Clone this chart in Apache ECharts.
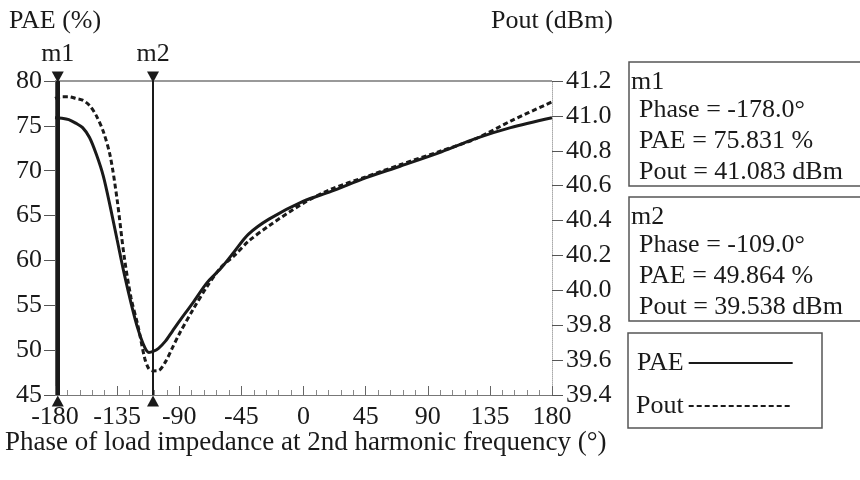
<!DOCTYPE html>
<html>
<head>
<meta charset="utf-8">
<script src="https://cdn.jsdelivr.net/npm/echarts@6/dist/echarts.min.js"></script>
<style>
html,body{margin:0;padding:0;background:#fff;}
#chart{width:860px;height:480px;}
</style>
</head>
<body>
<div id="chart"></div>
<script>
// ---- data ----
var phase = [-180, -175, -170, -165, -160, -155, -150, -145, -140, -135, -130, -125, -120, -115, -112, -109, -105, -100, -95, -90, -80, -70, -60, -50, -40, -25, 0, 20, 45, 70, 100, 125, 150, 180];
var paeValues = [75.9, 75.85, 75.7, 75.3, 74.8, 73.7, 71.8, 69.4, 66.0, 62.3, 58.6, 55.3, 52.4, 50.3, 49.75, 49.86, 50.2, 51.0, 52.1, 53.2, 55.3, 57.5, 59.1, 61.0, 62.9, 64.6, 66.6, 67.7, 69.2, 70.5, 72.1, 73.6, 74.8, 75.9];
var poutValues = [41.10, 41.11, 41.11, 41.10, 41.09, 41.06, 41.00, 40.91, 40.77, 40.52, 40.20, 39.96, 39.80, 39.61, 39.55, 39.538, 39.54, 39.59, 39.67, 39.75, 39.89, 40.02, 40.13, 40.20, 40.28, 40.37, 40.50, 40.58, 40.65, 40.72, 40.80, 40.87, 40.97, 41.08];
var xTicks = [-180, -135, -90, -45, 0, 45, 90, 135, 180];
var paeTicks = [45, 50, 55, 60, 65, 70, 75, 80];
var poutTicks = [39.4, 39.6, 39.8, 40.0, 40.2, 40.4, 40.6, 40.8, 41.0, 41.2];
var markerNames = ['m1', 'm2'];
var markerPhase = [-178.0, -109.0];
var markerPAE = [75.831, 49.864];
var markerPout = [41.083, 39.538];

var FONT = 'Liberation Serif';
var FS = 26;
var INK = '#1a1a1a';

var chart = echarts.init(document.getElementById('chart'));

function zip(a, b) { return a.map(function (v, i) { return [v, b[i]]; }); }

var markerTop = markerPhase.map(function (p, i) { return { value: [p, 80], name: markerNames[i] }; });
var markerBottom = markerPhase.map(function (p) { return [p, 45]; });

var option = {
  animation: false,
  backgroundColor: '#fff',
  textStyle: { fontFamily: FONT, color: INK },
  grid: { left: 55, right: 308, top: 81, bottom: 85, containLabel: false },
  legend: {
    left: 631, top: 345, orient: 'vertical', align: 'right',
    itemWidth: 104, itemHeight: 14, itemGap: 17,
    itemStyle: { opacity: 0 },
    textStyle: { fontFamily: FONT, fontSize: FS, color: INK },
    data: ['PAE', 'Pout']
  },
  xAxis: {
    type: 'value', min: xTicks[0], max: xTicks[xTicks.length - 1], interval: 45,
    axisLine: { show: true, onZero: false, lineStyle: { color: '#777', width: 1 } },
    axisTick: { show: true, inside: true, length: 9, lineStyle: { color: '#666' } },
    minorTick: { show: true, splitNumber: 5, length: 5, lineStyle: { color: '#888' } },
    axisLabel: { fontFamily: FONT, fontSize: FS, color: INK, margin: 9 },
    splitLine: { show: false }
  },
  yAxis: [
    {
      type: 'value', min: paeTicks[0], max: paeTicks[paeTicks.length - 1], interval: 5,
      position: 'left',
      name: 'PAE (%)', nameLocation: 'end', nameGap: 47,
      nameTextStyle: { fontFamily: FONT, fontSize: FS, color: INK, align: 'center' },
      axisLine: { show: true, onZero: false, lineStyle: { color: '#555', width: 1 } },
      axisTick: { show: true, inside: false, length: 11, lineStyle: { color: '#555' } },
      axisLabel: { fontFamily: FONT, fontSize: FS, color: INK, margin: 13 },
      splitLine: { show: false }
    },
    {
      type: 'value', min: poutTicks[0], max: poutTicks[poutTicks.length - 1], interval: 0.2,
      position: 'right',
      name: 'Pout (dBm)', nameLocation: 'end', nameGap: 47,
      nameTextStyle: { fontFamily: FONT, fontSize: FS, color: INK, align: 'center' },
      axisLine: { show: true, onZero: false, lineStyle: { color: '#aaa', width: 1, type: 'dotted' } },
      axisTick: { show: true, inside: false, length: 11, lineStyle: { color: '#555' } },
      axisLabel: { fontFamily: FONT, fontSize: FS, color: INK, margin: 14,
        formatter: function (v) { return v.toFixed(1); } },
      splitLine: { show: false }
    }
  ],
  series: [
    {
      name: 'PAE', type: 'line', yAxisIndex: 0, data: zip(phase, paeValues),
      smooth: 0.3, showSymbol: false, symbol: 'none',
      lineStyle: { color: INK, width: 3 }, itemStyle: { color: INK },
      markLine: {
        silent: true, symbol: ['none', 'none'], label: { show: false },
        lineStyle: { color: '#777', width: 1.5, type: 'solid' },
        data: [{ yAxis: 80 }]
      }
    },
    {
      name: 'Pout', type: 'line', yAxisIndex: 1, data: zip(phase, poutValues),
      smooth: 0.3, showSymbol: false, symbol: 'none',
      lineStyle: { color: INK, width: 3, type: [5, 3] }, itemStyle: { color: INK }
    },
    {
      name: 'markers', type: 'line', yAxisIndex: 0, data: [], silent: true,
      markLine: {
        silent: true, symbol: ['none', 'none'], label: { show: false },
        data: [
          { xAxis: markerPhase[0], lineStyle: { color: INK, width: 4, type: 'solid' } },
          { xAxis: markerPhase[1], lineStyle: { color: INK, width: 2, type: 'solid' } }
        ]
      }
    },
    {
      name: 'markerTop', type: 'scatter', yAxisIndex: 0, data: markerTop, silent: true,
      symbol: 'triangle', symbolRotate: 180, symbolSize: [12, 11], symbolOffset: [0, -4],
      itemStyle: { color: INK, opacity: 1 }, clip: false, z: 5,
      label: { show: true, position: 'top', distance: 4, formatter: '{b}',
        fontFamily: FONT, fontSize: FS, color: INK }
    },
    {
      name: 'markerBottom', type: 'scatter', yAxisIndex: 0, data: markerBottom, silent: true,
      symbol: 'triangle', symbolSize: [12, 11], symbolOffset: [0, 6],
      itemStyle: { color: INK, opacity: 1 }, clip: false, z: 5
    }
  ],
  graphic: (function () {
    var g = [];
    var ts = { fontFamily: FONT, fontSize: FS, fill: INK, textVerticalAlign: 'middle' };
    function txt(x, y, s) { return { type: 'text', left: x, top: y - 13, style: Object.assign({ text: s }, ts) }; }
    function box(x, y, w, h) {
      return { type: 'rect', shape: { x: x, y: y, width: w, height: h },
        style: { fill: 'none', stroke: '#555', lineWidth: 1.5 } };
    }
    function fmtPhase(v) { return 'Phase = ' + v.toFixed(1) + '°'; }
    // marker boxes
    var tops = [62, 197];
    for (var i = 0; i < 2; i++) {
      var t = tops[i];
      g.push(box(629, t, 240, 124));
      g.push(txt(631, t + 20, markerNames[i]));
      g.push(txt(639, t + 48, fmtPhase(markerPhase[i])));
      g.push(txt(639, t + 79, 'PAE = ' + markerPAE[i].toFixed(3) + ' %'));
      g.push(txt(639, t + 110, 'Pout = ' + markerPout[i].toFixed(3) + ' dBm'));
    }
    // legend box
    g.push(box(628, 333, 194, 95));
    // x-axis title
    g.push({ type: 'text', left: 5, top: 429,
      style: { text: 'Phase of load impedance at 2nd harmonic frequency (°)', fontFamily: FONT, fontSize: 27, fill: INK } });
    return g;
  })()
};
chart.setOption(option);
</script>
</body>
</html>
